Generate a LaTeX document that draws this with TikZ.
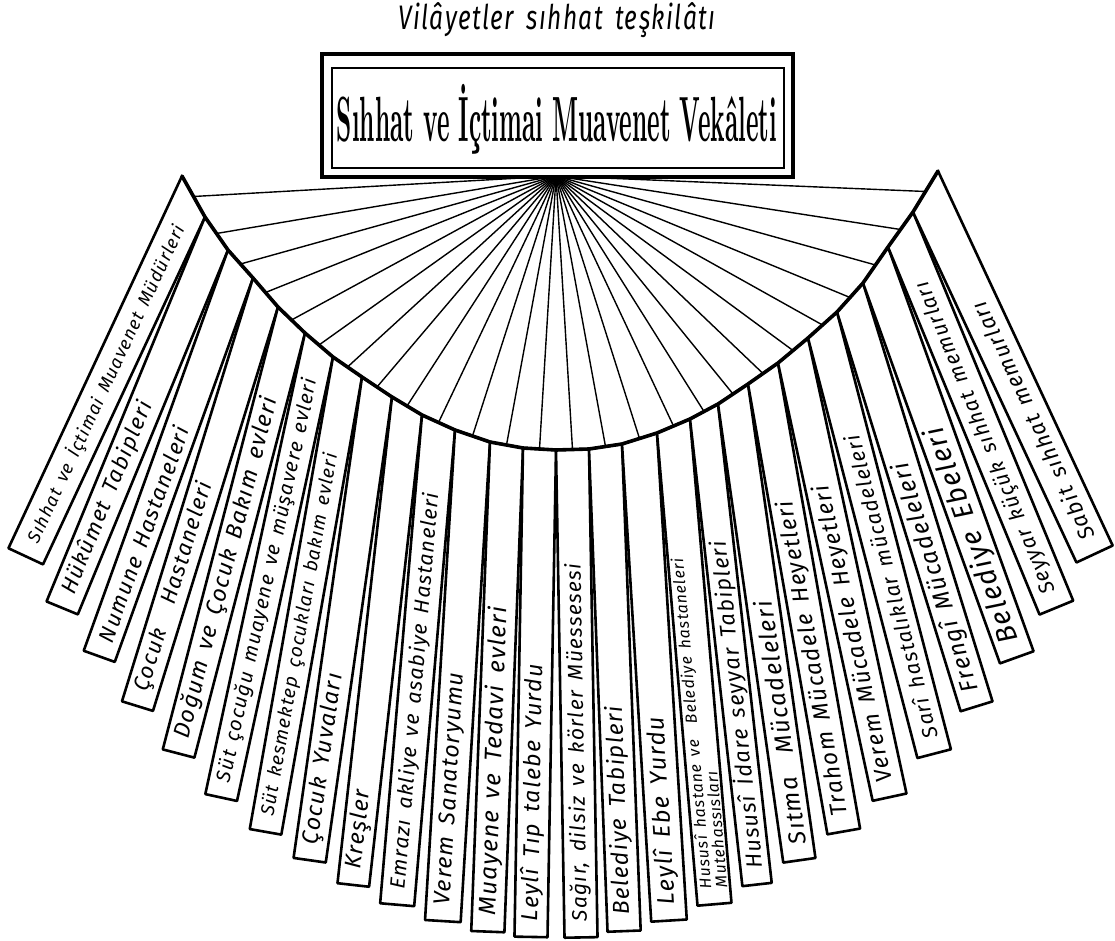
\documentclass[tikz,border=0pt]{standalone}
\usepackage{fontspec}
\usepackage{graphicx}
\newfontfamily\handfont{Fira Sans}[LetterSpace=6]
\newcommand\labfont[1]{\handfont\itshape\fontsize{#1}{#1}\selectfont\spaceskip=0.5em\relax}
\tikzset{
  stripline/.style={draw=black,line width=2.6pt,line join=round,fill=white},
  ucurve/.style={draw=black,line width=3.6pt,line join=round,line cap=round},
  rayline/.style={draw=black,line width=1.4pt},
  labeltext/.style={inner sep=0pt,outer sep=0pt,align=left,text=black},
  boxouter/.style={draw=black,line width=3.6pt,fill=white},
  boxinner/.style={draw=black,line width=1.4pt},
}
% #1 name, #2 #3 top-left, #4 #5 top-right, #6 tilt, #7 length, #8 font size, #9 label
\newcommand\mystrip[9]{%
  \pgfmathsetmacro\myCx{(#2+#4)/2}%
  \pgfmathsetmacro\myCy{(#3+#5)/2}%
  \pgfmathsetmacro\myW{(#4-#2)*cos(#6)+(#5-#3)*sin(#6)}%
  \pgfmathsetmacro\myBx{\myCx-#7*sin(#6)}%
  \pgfmathsetmacro\myBy{\myCy+#7*cos(#6)}%
  \pgfmathsetmacro\myOx{\myW/2*cos(#6)}%
  \pgfmathsetmacro\myOy{\myW/2*sin(#6)}%
  \pgfmathsetmacro\myLx{\myBx+16*sin(#6)}%
  \pgfmathsetmacro\myLy{\myBy-16*cos(#6)}%
  \pgfmathsetmacro\myRot{90-#6}%
  \coordinate (#1-tl) at (#2,#3);
  \coordinate (#1-tr) at (#4,#5);
  \coordinate (#1-br) at (\myBx+\myOx,\myBy+\myOy);
  \coordinate (#1-bl) at (\myBx-\myOx,\myBy-\myOy);
  \coordinate (#1-top) at (\myCx,\myCy);
  \draw[stripline] (#1-tl) -- (#1-tr) -- (#1-br) -- (#1-bl) -- cycle;
  \node[labeltext,font={\labfont{#8}},rotate=\myRot,anchor=west] (#1-lab) at (\myLx,\myLy) {#9};
}
\begin{document}
\begin{tikzpicture}[x=1pt,y=-1pt]
\fill[white] (0,0) rectangle (1115,941);
\useasboundingbox (0,0) rectangle (1115,941);
\coordinate (hub) at (556,176);
\mystrip{s1}{182}{176}{205}{217}{25.0}{397}{18}{Sıhhat ve İçtimai Muavenet Müdürleri}
\mystrip{s2}{205}{217}{228}{250}{22.4}{405}{22}{Hükûmet Tabipleri}
\mystrip{s3}{228}{250}{253}{278}{19.8}{417}{22}{Numune Hastaneleri}
\mystrip{s4}{253}{278}{278}{307}{17.2}{433}{22}{Çocuk\hspace{1.2em}Hastaneleri}
\mystrip{s5}{278}{307}{305}{333}{14.6}{448}{23}{Doğum ve Çocuk Bakım evleri}
\mystrip{s6}{305}{333}{333}{357}{12.2}{463}{20}{Süt çocuğu muayene ve müşavere evleri}
\mystrip{s7}{333}{357}{362}{377}{10.0}{472}{19}{Süt kesmektep çocukları bakım evleri}
\mystrip{s8}{362}{377}{392}{397}{8.1}{478}{23}{Çocuk Yuvaları}
\mystrip{s9}{392}{397}{422}{415}{6.4}{482}{23}{Kreşler}
\mystrip{s10}{422}{415}{455}{430}{4.9}{484}{21}{Emrazı akliye ve asabiye Hastaneleri}
\mystrip{s11}{455}{430}{490}{442}{3.5}{486}{23}{Verem Sanatoryumu}
\mystrip{s12}{490}{442}{523}{448}{2.2}{487}{24}{Muayene ve Tedavi evleri}
\mystrip{s13}{523}{448}{556}{450}{1.0}{488}{23}{Leylî Tıp talebe Yurdu}
\mystrip{s14}{556}{450}{589}{449}{-1.0}{488}{21}{Sağır, dilsiz ve körler Müessesesi}
\mystrip{s15}{589}{449}{622}{444}{-2.2}{485}{23}{Belediye Tabipleri}
\mystrip{s16}{622}{444}{657}{433}{-3.5}{483}{24}{Leylî Ebe Yurdu}
\mystrip{s17}{657}{433}{690}{419}{-4.9}{480}{16}{Hususî hastane ve\hspace{1em}Belediye hastaneleri\\Mutehassısları}
\mystrip{s18}{690}{419}{718}{404}{-6.4}{476}{22}{Hususî İdare seyyar Tabipleri}
\mystrip{s19}{718}{404}{748}{384}{-8.1}{471}{24}{Sıtma\hspace{1em}Mücadeleleri}
\mystrip{s20}{748}{384}{778}{363}{-10.0}{465}{23}{Trahom Mücadele Heyetleri}
\mystrip{s21}{778}{363}{808}{338}{-12.2}{457}{23}{Verem Mücadele Heyetleri}
\mystrip{s22}{808}{338}{837}{312}{-14.6}{443}{21}{Sarî hastalıklar mücadeleleri}
\mystrip{s23}{837}{312}{863}{283}{-17.2}{428}{24}{Frengî Mücadeleleri}
\mystrip{s24}{863}{283}{888}{247}{-19.8}{417}{28}{Belediye Ebeleri}
\mystrip{s25}{888}{247}{913}{212}{-22.4}{409}{21}{Seyyar küçük sıhhat memurları}
\mystrip{s26}{913}{212}{938}{171}{-25.0}{400}{22}{Sabit sıhhat memurları}
\foreach \i in {1,...,26}{\draw[rayline] (hub) -- (s\i-top);}
\draw[ucurve] (s1-tl) \foreach \i in {1,...,26}{ -- (s\i-tr)};
\draw[boxouter] (322,54) rectangle (793,177);
\draw[boxinner] (332,68) rectangle (784,168);
\node[inner sep=0pt] (boxtext) at (557,119) {\resizebox*{440pt}{70pt}{\bfseries Sıhhat ve İçtimai Muavenet Vekâleti}};
\node[font={\labfont{34}},xscale=0.72,inner sep=0pt] (title) at (557,20) {Vilâyetler sıhhat teşkilâtı};
\end{tikzpicture}
\end{document}
